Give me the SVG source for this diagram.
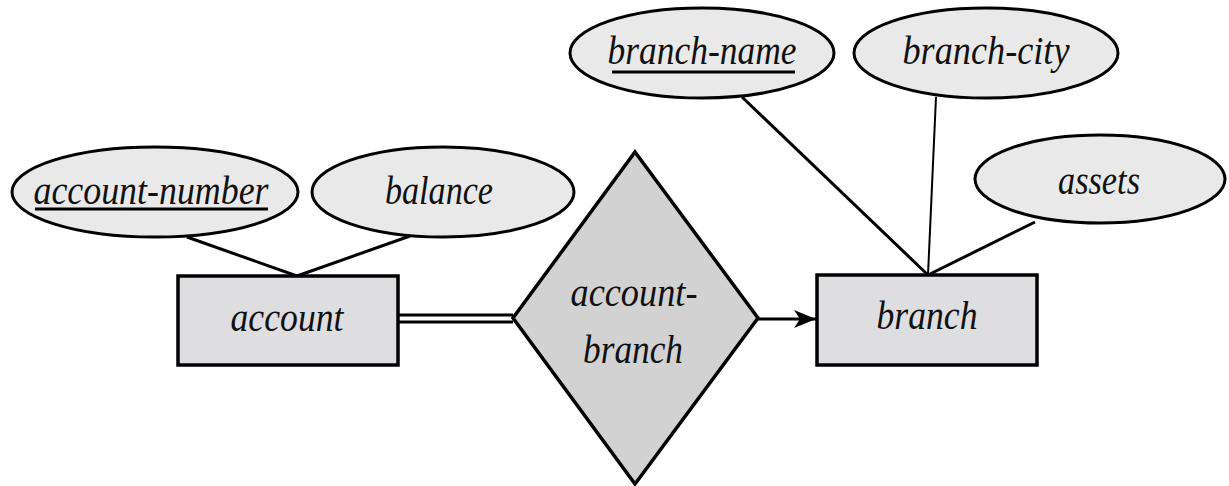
<svg xmlns="http://www.w3.org/2000/svg" width="1229" height="486" viewBox="0 0 1229 486">
<style>
  .attr { fill: #e9e9e9; stroke: #000; stroke-width: 3; }
  .ent { fill: #dedde0; stroke: #000; stroke-width: 3.5; }
  .rel { fill: #d2d2d2; stroke: #000; stroke-width: 3.5; }
  .lbl { font-family: "Liberation Serif", "Times New Roman", serif; font-style: italic; font-size: 41px; fill: #111; text-anchor: middle; }
  .ln { stroke: #000; stroke-width: 3; fill: none; }
  .ul { stroke: #000; stroke-width: 3; }
</style>
<defs>
  <marker id="arrow" markerWidth="24" markerHeight="18" refX="22" refY="9" orient="auto" markerUnits="userSpaceOnUse">
    <path d="M0,0 L22,9 L0,18 L6,9 Z" fill="#000"/>
  </marker>
</defs>
<rect width="1229" height="486" fill="#fff"/>
<g id="connectors">
  <line class="ln" x1="187" y1="237" x2="297" y2="276"/>
  <line class="ln" x1="410" y1="236" x2="297" y2="276"/>
  <line class="ln" x1="398" y1="315" x2="513" y2="315"/>
  <line class="ln" x1="398" y1="322" x2="513" y2="322"/>
  <line class="ln" x1="758" y1="319" x2="816" y2="319" marker-end="url(#arrow)"/>
  <line class="ln" x1="742" y1="97" x2="928" y2="275"/>
  <line class="ln" style="stroke-width:2" x1="936" y1="97" x2="928" y2="275"/>
  <line class="ln" x1="1035" y1="222" x2="928" y2="275"/>
</g>
<g id="account-number">
  <ellipse class="attr" cx="155" cy="192" rx="143" ry="45"/>
  <text class="lbl" x="151" y="204" textLength="235" lengthAdjust="spacingAndGlyphs">account-number</text>
  <line class="ul" x1="35" y1="209" x2="268" y2="209"/>
</g>
<g id="balance">
  <ellipse class="attr" cx="443" cy="192" rx="131" ry="45"/>
  <text class="lbl" x="439" y="204" textLength="108" lengthAdjust="spacingAndGlyphs">balance</text>
</g>
<g id="account">
  <rect class="ent" x="178" y="276" width="220" height="89"/>
  <text class="lbl" x="287" y="331" textLength="113" lengthAdjust="spacingAndGlyphs">account</text>
</g>
<g id="account-branch">
  <polygon class="rel" points="635,152 758,318 635,484 513,318"/>
  <text class="lbl" x="634" y="306" textLength="127" lengthAdjust="spacingAndGlyphs">account-</text>
  <text class="lbl" x="633" y="363" textLength="100" lengthAdjust="spacingAndGlyphs">branch</text>
</g>
<g id="branch">
  <rect class="ent" x="817" y="275" width="220" height="90"/>
  <text class="lbl" x="927" y="329" textLength="101" lengthAdjust="spacingAndGlyphs">branch</text>
</g>
<g id="branch-name">
  <ellipse class="attr" cx="702" cy="53" rx="132" ry="45"/>
  <text class="lbl" x="702" y="64" textLength="189" lengthAdjust="spacingAndGlyphs">branch-name</text>
  <line class="ul" x1="612" y1="72" x2="795" y2="72"/>
</g>
<g id="branch-city">
  <ellipse class="attr" cx="986" cy="53" rx="132" ry="45"/>
  <text class="lbl" x="986" y="64" textLength="167" lengthAdjust="spacingAndGlyphs">branch-city</text>
</g>
<g id="assets">
  <ellipse class="attr" cx="1100" cy="179" rx="125" ry="44"/>
  <text class="lbl" x="1099" y="194" textLength="82" lengthAdjust="spacingAndGlyphs">assets</text>
</g>
</svg>
